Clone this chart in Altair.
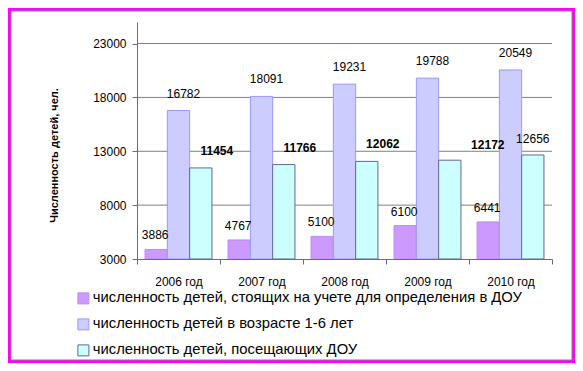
import altair as alt
import pandas as pd

years = ["2006 год", "2007 год", "2008 год", "2009 год", "2010 год"]
series_names = [
    "численность детей, стоящих на учете для определения в ДОУ",
    "численность детей в возрасте 1-6 лет",
    "численность детей, посещающих ДОУ",
]
queue = [3886, 4767, 5100, 6100, 6441]
age_1_6 = [16782, 18091, 19231, 19788, 20549]
attending = [11454, 11766, 12062, 12172, 12656]
y_ticks = [3000, 8000, 13000, 18000, 23000]

fills = ["#cc99ff", "#ccccff", "#ccffff"]
strokes = ["#b98cf2", "#9999ff", "#666699"]

rows = []
for s, vals in zip(series_names, [queue, age_1_6, attending]):
    for yr, v in zip(years, vals):
        rows.append({"year": yr, "series": s, "value": v})
df = pd.DataFrame(rows)

W, H = 415, 237
PAD = {"left": 129, "top": 14, "right": 23, "bottom": 104}
FONT = "Liberation Sans"
AX = "#666699"

y_scale = alt.Scale(domain=[3000, 25000], nice=False, zero=False)

x_enc = alt.X(
    "year:N", sort=years, title=None,
    scale=alt.Scale(paddingInner=0, paddingOuter=0),
    axis=alt.Axis(tickBand="extent", labelAngle=0, labelFontSize=12, labelFont=FONT,
                  labelColor="black", labelPadding=12, tickSize=5, tickColor=AX,
                  domainColor=AX, grid=False, zindex=1),
)
xo_enc = alt.XOffset("series:N", sort=series_names,
                     scale=alt.Scale(domain=series_names, paddingInner=0, paddingOuter=0.36))
y_enc = alt.Y(
    "value:Q", scale=y_scale, title="Численность детей, чел.",
    axis=alt.Axis(values=y_ticks, format="d", grid=False, labelFontSize=12, labelFont=FONT,
                  labelColor="black", labelPadding=6, tickSize=5, tickColor=AX, domainColor=AX,
                  titleFont=FONT, titleFontSize=11, titleFontWeight="bold", titleColor="black",
                  titleX=-78, titleY=133, zindex=1),
)

frame = alt.Chart(alt.Data(values=[{"k": 0}])).mark_rect(
    fill="white", stroke="#808080", strokeWidth=1
).encode(x=alt.value(-126), x2=alt.value(435), y=alt.value(-11), y2=alt.value(338))

grid = alt.Chart(pd.DataFrame({"value": y_ticks[1:]})).mark_rule(
    color="#808080", strokeWidth=1
).encode(y=y_enc, x=alt.value(0), x2=alt.value(W))

base = alt.Chart(df)

bars = base.mark_bar(strokeWidth=1).encode(
    x=x_enc, xOffset=xo_enc, y=y_enc, y2=alt.datum(3000),
    fill=alt.Fill("series:N", sort=series_names,
                  scale=alt.Scale(domain=series_names, range=fills), legend=alt.Legend(title=None)),
    stroke=alt.Stroke("series:N", sort=series_names,
                      scale=alt.Scale(domain=series_names, range=strokes), legend=alt.Legend(title=None)),
)

def labels(filter_expr, dx, dy, weight="normal"):
    return base.transform_filter(filter_expr).mark_text(
        dx=dx, dy=dy, baseline="middle", align="center", font=FONT, fontSize=12,
        fontWeight=weight, color="black"
    ).encode(x=x_enc, xOffset=xo_enc, y=y_enc, text=alt.Text("value:Q", format="d"))

s1 = f"datum.series == '{series_names[0]}'"
s2 = f"datum.series == '{series_names[1]}'"
s3 = f"datum.series == '{series_names[2]}'"

lab1 = labels(s1, -1, -14)
lab2 = labels(s2, 5, -17)
lab3a = labels(f"{s3} && indexof(['2006 год','2007 год','2008 год'], datum.year) >= 0", 16, -17, "bold")
lab3b = labels(f"{s3} && datum.year == '2009 год'", 38, -15, "bold")
lab3c = labels(f"{s3} && datum.year == '2010 год'", 0, -16)

chart = alt.layer(frame, grid, bars, lab1, lab2, lab3a, lab3b, lab3c).properties(
    width=W, height=H, padding=PAD, autosize=alt.AutoSizeParams(type="none"),
    background="#ff00ff",
).configure_view(stroke=None).configure_legend(
    orient="none", legendX=-61, legendY=269, direction="vertical",
    symbolType="square", symbolSize=121, symbolStrokeWidth=1,
    labelFont=FONT, labelFontSize=14.8, labelColor="black", labelLimit=0,
    labelOffset=2, rowPadding=10, padding=0,
)

chart.save("out.html", embed_options={"renderer": "svg", "actions": False})
